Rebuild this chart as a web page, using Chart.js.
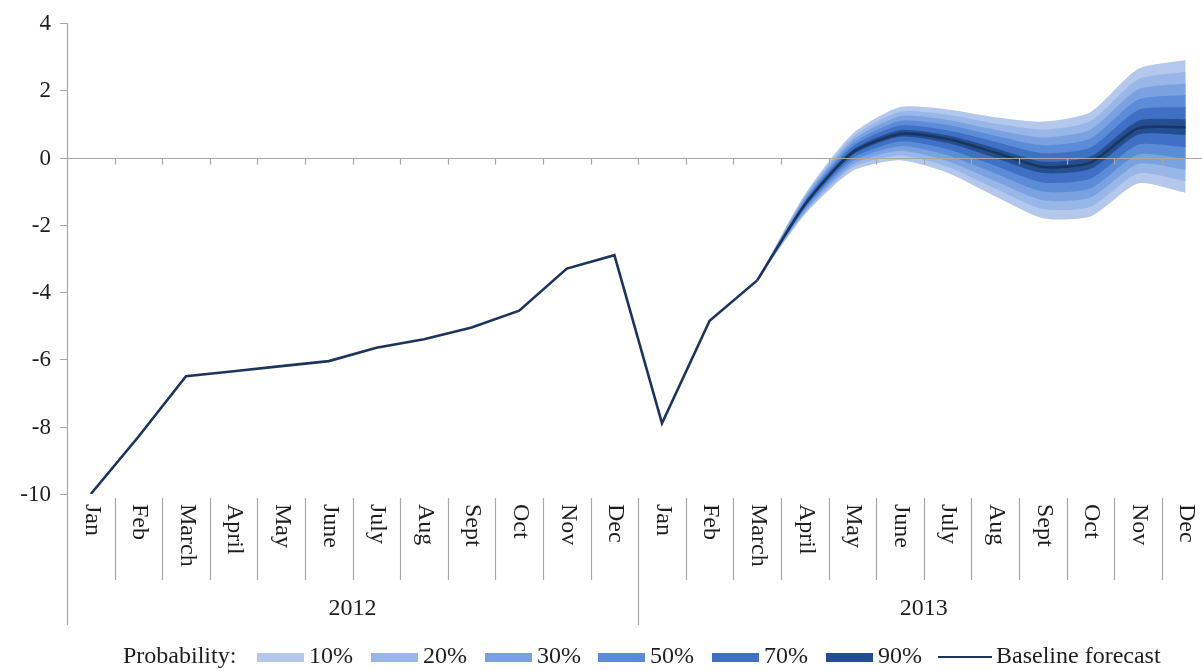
<!DOCTYPE html>
<html>
<head>
<meta charset="utf-8">
<script src="https://cdn.jsdelivr.net/npm/chart.js@4/dist/chart.umd.min.js"></script>
<style>
  html, body { margin: 0; padding: 0; background: #ffffff; overflow: hidden; }
  #wrap { position: relative; width: 1212px; height: 671px; }
</style>
</head>
<body>
<div id="wrap"><canvas id="c"></canvas></div>
<script>
// ---- data ----
const categories = ['Jan','Feb','March','April','May','June','July','Aug','Sept','Oct','Nov','Dec',
                    'Jan','Feb','March','April','May','June','July','Aug','Sept','Oct','Nov','Dec'];
const yearLabels = ['2012', '2013'];
const monthsPerYear = 12;
const yTicks = [4, 2, 0, -2, -4, -6, -8, -10];

const baseline = [-10, -8.3, -6.5, -6.35, -6.2, -6.05, -5.65, -5.4, -5.05, -4.55, -3.3, -2.9,
                  -7.9, -4.85, -3.65, -1.4, 0.15, 0.7, 0.55, 0.15, -0.28, -0.15, 0.87, 0.9];
const fanStart = 14; // March 2013

const upper10 = [-3.65, -1.10, 0.70, 1.50, 1.43, 1.20, 1.07, 1.35, 2.63, 2.90];
const lower10 = [-3.65, -1.70, -0.40, -0.08, -0.45, -1.15, -1.80, -1.75, -0.77, -1.05];
const upper20 = [-3.65, -1.15, 0.60, 1.36, 1.27, 1.01, 0.83, 1.08, 2.32, 2.54];
const lower20 = [-3.65, -1.65, -0.30, 0.06, -0.27, -0.92, -1.53, -1.46, -0.47, -0.70];
const upper30 = [-3.65, -1.20, 0.51, 1.23, 1.12, 0.83, 0.60, 0.83, 2.02, 2.20];
const lower30 = [-3.65, -1.60, -0.21, 0.20, -0.10, -0.70, -1.27, -1.19, -0.19, -0.37];
const upper50 = [-3.65, -1.26, 0.41, 1.09, 0.97, 0.65, 0.37, 0.57, 1.72, 1.86];
const lower50 = [-3.65, -1.54, -0.11, 0.34, 0.07, -0.47, -1.01, -0.92, 0.09, -0.04];
const upper70 = [-3.65, -1.31, 0.32, 0.95, 0.81, 0.47, 0.13, 0.30, 1.41, 1.50];
const lower70 = [-3.65, -1.49, -0.02, 0.48, 0.25, -0.24, -0.74, -0.63, 0.38, 0.31];
const upper90 = [-3.65, -1.36, 0.22, 0.81, 0.66, 0.28, -0.12, 0.03, 1.09, 1.14];
const lower90 = [-3.65, -1.44, 0.08, 0.62, 0.43, -0.01, -0.46, -0.34, 0.68, 0.67];

const bandLabels = ['10%', '20%', '30%', '50%', '70%', '90%'];
const bandColors = ['#b3c8ec', '#98b6e8', '#7aa1e0', '#5c8cd8', '#3f70c6', '#234f92'];
const lineColor = '#1c355e';

// ---- build datasets ----
function pad(arr) {
  const out = new Array(categories.length).fill(null);
  arr.forEach((v, i) => { out[fanStart + i] = v; });
  return out;
}
const bands = [[upper10, lower10], [upper20, lower20], [upper30, lower30],
               [upper50, lower50], [upper70, lower70], [upper90, lower90]];

const datasets = [];
datasets.push({
  label: 'Baseline forecast', data: baseline.map((v, i) => i <= fanStart ? v : null),
  borderColor: lineColor, borderWidth: 2.6, pointRadius: 0, tension: 0, fill: false, order: 0
});
datasets.push({
  label: 'Baseline forecast (fc)', data: baseline.map((v, i) => i >= fanStart ? v : null),
  borderColor: lineColor, borderWidth: 2.6, pointRadius: 0, tension: 0.22, fill: false, order: 0
});
bands.forEach((b, k) => {
  datasets.push({
    label: bandLabels[k], data: pad(b[0]), borderWidth: 0, borderColor: 'rgba(0,0,0,0)',
    backgroundColor: bandColors[k], pointRadius: 0, tension: 0.22, fill: '+1', order: 10 - k
  });
  datasets.push({
    label: bandLabels[k] + ' low', data: pad(b[1]), borderWidth: 0, borderColor: 'rgba(0,0,0,0)',
    pointRadius: 0, tension: 0.22, fill: false, order: 10 - k
  });
});

const SERIF = '"Liberation Serif", "DejaVu Serif", serif';
const TXT = '#1e1e1e';
const AX = '#a8a8a8';

const decor = {
  id: 'decor',
  afterDatasetsDraw(chart) {
    const ctx = chart.ctx, y = chart.scales.y, ca = chart.chartArea;
    const n = categories.length;
    const w = (ca.right - ca.left) / n;
    const y0 = Math.round(y.getPixelForValue(0)) + 0.5;
    ctx.save();
    ctx.strokeStyle = AX; ctx.lineWidth = 1.2;
    ctx.beginPath();
    ctx.moveTo(ca.left, y0); ctx.lineTo(ca.right, y0);
    for (let i = 1; i < n; i++) {
      const bx = Math.round(ca.left + i * w) + 0.5;
      ctx.moveTo(bx, y0); ctx.lineTo(bx, y0 + 6);
    }
    ctx.stroke();
    ctx.restore();
  },
  afterDraw(chart) {
    const ctx = chart.ctx, x = chart.scales.x, y = chart.scales.y, ca = chart.chartArea;
    const n = categories.length;
    const w = (ca.right - ca.left) / n;
    const yBottom = y.getPixelForValue(-10);
    ctx.save();
    ctx.strokeStyle = AX; ctx.lineWidth = 1.2;
    ctx.beginPath();
    ctx.moveTo(ca.left + 0.5, y.getPixelForValue(yTicks[0]));
    ctx.lineTo(ca.left + 0.5, 625);
    yTicks.forEach(v => {
      const py = Math.round(y.getPixelForValue(v)) + 0.5;
      ctx.moveTo(ca.left - 7, py); ctx.lineTo(ca.left, py);
    });
    for (let i = 1; i <= n; i++) {
      const bx = Math.round(ca.left + i * w) + 0.5;
      const long = (i % monthsPerYear === 0);
      ctx.moveTo(bx, yBottom + 4);
      ctx.lineTo(bx, long ? 625 : 580);
    }
    ctx.stroke();

    // y labels
    ctx.fillStyle = TXT;
    ctx.font = '23px ' + SERIF;
    ctx.textAlign = 'right'; ctx.textBaseline = 'middle';
    yTicks.forEach(v => {
      ctx.fillText(String(v), ca.left - 16, y.getPixelForValue(v) + 1);
    });

    // month labels rotated +90
    ctx.font = '24px ' + SERIF;
    ctx.textAlign = 'left'; ctx.textBaseline = 'middle';
    categories.forEach((m, i) => {
      const px = x.getPixelForValue(i);
      ctx.save();
      ctx.translate(px + 1, yBottom + 10);
      ctx.rotate(Math.PI / 2);
      ctx.fillText(m, 0, 0);
      ctx.restore();
    });

    // year labels
    ctx.font = '24px ' + SERIF;
    ctx.textAlign = 'center'; ctx.textBaseline = 'middle';
    yearLabels.forEach((yr, k) => {
      const cx = ca.left + (k * monthsPerYear + monthsPerYear / 2) * w;
      ctx.fillText(yr, cx, 609);
    });

    // legend
    const ly = 657;
    ctx.font = '24px ' + SERIF;
    ctx.textAlign = 'left';
    ctx.fillText('Probability:', 123, ly);
    const swX = [257, 371, 485, 598, 712, 826];
    bandLabels.forEach((lab, k) => {
      ctx.fillStyle = bandColors[k];
      ctx.fillRect(swX[k], ly - 4, 47, 9);
      ctx.fillStyle = TXT;
      ctx.fillText(lab, swX[k] + 52, ly);
    });
    ctx.strokeStyle = lineColor; ctx.lineWidth = 2;
    ctx.beginPath(); ctx.moveTo(938, ly); ctx.lineTo(992, ly); ctx.stroke();
    ctx.fillText('Baseline forecast', 996, ly);
    ctx.restore();
  }
};

new Chart(document.getElementById('c'), {
  type: 'line',
  data: { labels: categories, datasets },
  options: {
    responsive: true, maintainAspectRatio: false, animation: false,
    layout: { padding: { left: 67, right: 2.6, top: 23, bottom: 177 } },
    plugins: { legend: { display: false }, tooltip: { enabled: false } },
    scales: {
      x: { type: 'category', offset: true, display: false, grid: { display: false } },
      y: { min: -10, max: 4, display: false, ticks: { stepSize: 2 } }
    }
  },
  plugins: [decor]
});
</script>
</body>
</html>
